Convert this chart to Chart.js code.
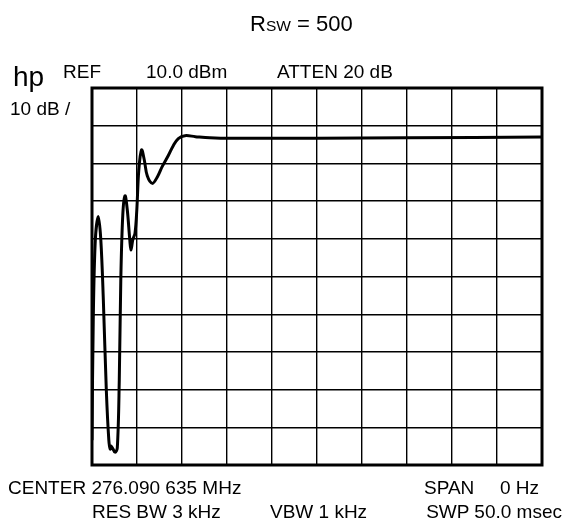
<!DOCTYPE html>
<html>
<head>
<meta charset="utf-8">
<script src="https://cdn.jsdelivr.net/npm/chart.js@4"></script>
<style>
  body { margin: 0; background: #fff; }
  #wrap { position: relative; width: 566px; height: 520px; font-family: "Liberation Sans", Arial, sans-serif; color: #000; }
  #wrap canvas { position: absolute; left: 0; top: 0; }
  .lbl { position: absolute; white-space: pre; line-height: 1; font-size: 19px; }
</style>
</head>
<body>
<div id="wrap">
  <canvas id="myChart" width="566" height="520"></canvas>
  <div class="lbl" style="left:250px;top:13px;font-size:22px;">R<span style="font-size:15.5px;">SW</span> = 500</div>
  <div class="lbl" style="left:13px;top:63px;font-size:28px;">hp</div>
  <div class="lbl" style="left:63px;top:62px;">REF</div>
  <div class="lbl" style="left:146px;top:62px;">10.0 dBm</div>
  <div class="lbl" style="left:277px;top:62px;">ATTEN 20 dB</div>
  <div class="lbl" style="left:10px;top:99px;">10 dB /</div>
  <div class="lbl" style="left:8px;top:478px;">CENTER 276.090 635 MHz</div>
  <div class="lbl" style="left:424px;top:478px;">SPAN</div>
  <div class="lbl" style="left:500px;top:478px;">0 Hz</div>
  <div class="lbl" style="left:92px;top:502px;">RES BW 3 kHz</div>
  <div class="lbl" style="left:270px;top:502px;">VBW 1 kHz</div>
  <div class="lbl" style="right:4px;top:502px;">SWP 50.0 msec</div>
</div>
<script>
'use strict';

// sweep time (msec) and trace level (dBm)
let sweepMs = [0, 0.14, 0.37, 0.7, 0.98, 1.26, 1.59, 1.87, 2.03, 2.14, 2.56, 2.81, 3.03, 3.2, 3.42, 3.67,
  3.92, 4.2, 4.33, 4.53, 4.78, 4.98, 5.2, 5.51, 5.81, 6.14, 6.7, 7.26, 7.81, 8.48, 9.03, 9.59, 10.33,
  11.48, 13.1, 15.4, 25, 35, 50];
let levelDbm = [-83.4, -51.5, -30.3, -24.1, -30.3, -46.2, -70.1, -83.4, -85.8, -85.0, -86.6, -85.5, -67.5, -40.9, -23.7, -18.6,
  -22.3, -30.3, -33.0, -30.3, -28.5, -22.3, -11.8, -6.4, -9.1, -13.3, -15.3, -13.6, -10.8, -7.9, -5.3, -3.4, -2.65,
  -2.9, -3.2, -3.35, -3.3, -3.2, -3.0];

let refLevel = 10;
let dbPerDiv = 10;
let divisions = 10;
let sweepTime = 50;

let points = [];
for (let i = 0; i < sweepMs.length; i++) {
  points.push({ x: sweepMs[i], y: levelDbm[i] });
}

// thick screen frame round the graticule
let framePlugin = {
  id: 'frame',
  afterDraw(chart) {
    let a = chart.chartArea;
    let ctx = chart.ctx;
    ctx.save();
    ctx.strokeStyle = '#000';
    ctx.lineWidth = 3;
    ctx.strokeRect(a.left, a.top, a.right - a.left, a.bottom - a.top);
    ctx.restore();
  }
};

let ctx = document.getElementById('myChart').getContext('2d');
let chart = new Chart(ctx, {
  type: 'line',
  data: {
    datasets: [{
      data: points,
      borderColor: '#000',
      borderWidth: 3,
      pointRadius: 0,
      fill: false,
      tension: 0.35
    }]
  },
  options: {
    responsive: false,
    animation: false,
    events: [],
    layout: { padding: { left: 92, top: 88, right: 24, bottom: 55 } },
    plugins: { legend: { display: false }, tooltip: { enabled: false }, title: { display: false } },
    scales: {
      x: {
        type: 'linear',
        min: 0,
        max: sweepTime,
        ticks: { display: false, stepSize: sweepTime / divisions },
        grid: { color: '#000', lineWidth: 1.4, drawTicks: false },
        border: { display: false }
      },
      y: {
        min: refLevel - dbPerDiv * divisions,
        max: refLevel,
        ticks: { display: false, stepSize: dbPerDiv },
        grid: { color: '#000', lineWidth: 1.4, drawTicks: false },
        border: { display: false }
      }
    }
  },
  plugins: [framePlugin]
});
</script>
</body>
</html>
